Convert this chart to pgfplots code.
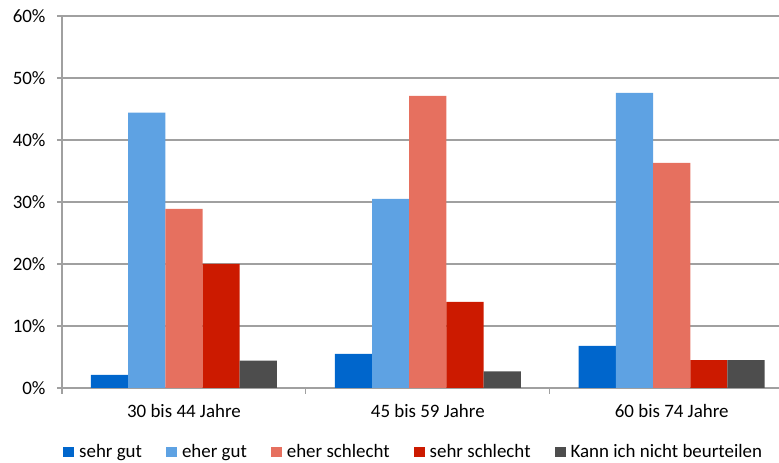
\documentclass[border=0pt]{standalone}
\usepackage{pgfplots}
\pgfplotsset{compat=1.18}
\usepackage{fontspec}
\setmainfont{Carlito}
\definecolor{c1}{HTML}{0066CC}
\definecolor{c2}{HTML}{5EA2E3}
\definecolor{c3}{HTML}{E6705F}
\definecolor{c4}{HTML}{CC1A00}
\definecolor{c5}{HTML}{4D4D4D}
\definecolor{gridc}{HTML}{A0A0A0}
\begin{document}
\begin{tikzpicture}[x=1bp,y=1bp]
\useasboundingbox (0,0) rectangle (779,463);
\begin{axis}[
  at={(62bp,75bp)}, anchor=south west,
  scale only axis, width=717bp, height=372bp,
  ybar=0pt, bar width=0.1525,
  xmin=-0.5, xmax=2.44, ymin=0, ymax=60,
  axis x line*=bottom, axis y line*=left,
  axis line style={gridc, line width=1.2bp, -},
  ytick={0,10,...,60},
  yticklabel={\pgfmathprintnumber{\tick}\%},
  ymajorgrids, major grid style={gridc, line width=1.2bp},
  xtick={0,1,2},
  xticklabels={30 bis 44 Jahre,45 bis 59 Jahre,60 bis 74 Jahre},
  minor xtick={-0.5,0.5,1.5},
  x tick style={draw=none},
  minor x tick style={draw=gridc, line width=1.2bp},
  y tick style={gridc, line width=1.2bp},
  tick align=outside,
  major tick length=5bp, minor tick length=6bp,
  /pgf/number format/assume math mode=true,
  tick label style={font=\fontsize{19}{22}\selectfont, text=black},
  xticklabel style={yshift=-8bp},
  yticklabel style={xshift=-8bp},
  legend style={at={(0,-0.172)}, anchor=west, xshift=-2bp, draw=none, fill=none,
    legend columns=5, font=\fontsize{19}{22}\selectfont,
    /tikz/every odd column/.append style={column sep=3bp},
    /tikz/every even column/.append style={column sep=22bp}},
  legend image code/.code={\fill[#1] (0bp,-5bp) rectangle (11bp,5bp);},
  legend cell align=left,
]
\addplot[fill=c1, draw=none] coordinates {(0,2.1) (1,5.5) (2,6.8)};
\addplot[fill=c2, draw=none] coordinates {(0,44.4) (1,30.5) (2,47.6)};
\addplot[fill=c3, draw=none] coordinates {(0,28.9) (1,47.1) (2,36.3)};
\addplot[fill=c4, draw=none] coordinates {(0,20.0) (1,13.9) (2,4.5)};
\addplot[fill=c5, draw=none] coordinates {(0,4.4) (1,2.7) (2,4.5)};
\legend{sehr gut, eher gut, eher schlecht, sehr schlecht, Kann ich nicht beurteilen}
\end{axis}
\end{tikzpicture}
\end{document}
